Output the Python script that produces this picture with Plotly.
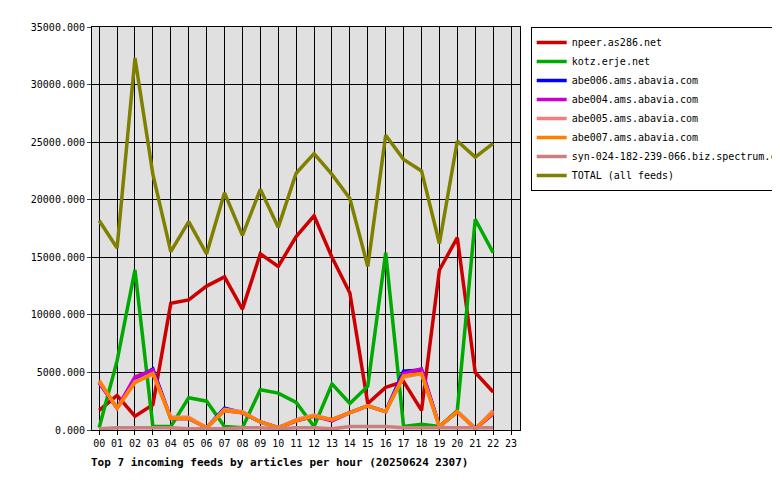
import plotly.graph_objects as go

hours = ["%02d" % h for h in range(24)]

npeer = [1700, 3000, 1200, 2200, 11000, 11300, 12500, 13300, 10500, 15300, 14200, 16800,
         18600, 15000, 11900, 2300, 3700, 4200, 1700, 13900, 16700, 5000, 3300]
kotz = [200, 6000, 13900, 300, 300, 2800, 2500, 300, 200, 3500, 3200, 2400,
        300, 4000, 2300, 3800, 15400, 300, 500, 300, 1700, 18300, 15400]
abe006 = [4100, 1900, 4400, 5300, 1000, 1000, 200, 1900, 1500, 700, 200, 800,
          1200, 900, 1500, 2100, 1600, 5100, 5200, 300, 1600, 100, 1500]
abe004 = [4100, 1900, 4600, 5200, 1000, 1000, 200, 1700, 1500, 700, 200, 800,
          1200, 800, 1500, 2100, 1600, 4900, 5300, 300, 1600, 100, 1400]
abe005 = [4200, 1900, 4200, 4900, 1100, 1100, 200, 1800, 1600, 700, 200, 900,
          1300, 900, 1500, 2100, 1600, 4600, 4900, 300, 1600, 100, 1700]
abe007 = [4300, 1900, 4100, 4900, 1000, 1000, 200, 1700, 1500, 700, 200, 800,
          1200, 900, 1500, 2100, 1600, 4700, 4900, 300, 1600, 100, 1500]
syn = [100, 200, 200, 200, 200, 100, 100, 100, 200, 200, 100, 200,
       200, 100, 300, 300, 300, 200, 200, 200, 200, 200, 200]
total = [18200, 15800, 32300, 22200, 15500, 18100, 15300, 20600, 16900, 20900, 17600, 22300,
         24000, 22200, 20100, 14200, 25600, 23500, 22500, 16200, 25100, 23700, 24900]

series = [
    ("npeer.as286.net", npeer, "#cc0000"),
    ("kotz.erje.net", kotz, "#00aa00"),
    ("abe006.ams.abavia.com", abe006, "#0000ff"),
    ("abe004.ams.abavia.com", abe004, "#cc00cc"),
    ("abe005.ams.abavia.com", abe005, "#f08080"),
    ("abe007.ams.abavia.com", abe007, "#ff8000"),
    ("syn-024-182-239-066.biz.spectrum.com", syn, "#cc7f7f"),
    ("TOTAL (all feeds)", total, "#808000"),
]

fig = go.Figure()
for name, vals, col in series:
    fig.add_trace(go.Scatter(x=hours[:len(vals)], y=vals, name=name, mode="lines",
                             line=dict(color=col, width=3.5)))

fig.update_layout(
    width=780, height=480,
    margin=dict(l=84, r=268, t=19, b=58, autoexpand=False),
    paper_bgcolor="white", plot_bgcolor="#e0e0e0",
    font=dict(family="DejaVu Sans Mono", size=10, color="black"),
    legend=dict(x=1.025, y=1, xanchor="left", yanchor="top", bordercolor="black",
                borderwidth=1, tracegroupgap=0, font=dict(size=10),
                itemwidth=30, entrywidthmode="pixels"),
    annotations=[dict(text="<b>Top 7 incoming feeds by articles per hour (20250624 2307)</b>",
                      x=0.44, y=-0.06, xref="paper", yref="paper", xanchor="center",
                      yanchor="top", showarrow=False, font=dict(size=11))],
    showlegend=True,
)
fig.update_xaxes(type="category", categoryorder="array", categoryarray=hours,
                 range=[-0.4, 23.5], showgrid=True, gridcolor="black", gridwidth=1,
                 showline=True, linecolor="black", mirror=True, ticks="outside",
                 ticklen=4, tickcolor="black")
fig.update_yaxes(range=[0, 35000], dtick=5000, tickformat=".3f", showgrid=True,
                 gridcolor="black", gridwidth=1, showline=True, linecolor="black",
                 mirror=True, zeroline=False, ticks="outside", ticklen=4)

fig.write_html("out.html")
